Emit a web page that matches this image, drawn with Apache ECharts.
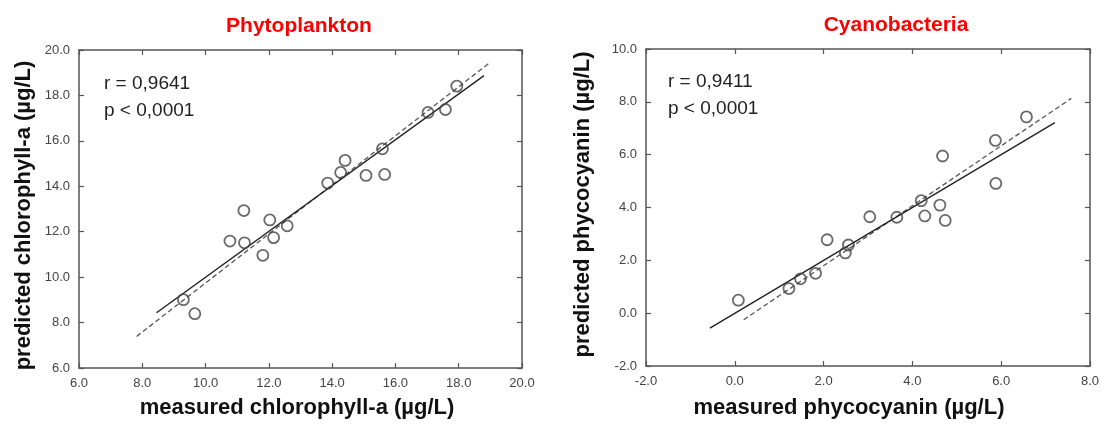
<!DOCTYPE html>
<html>
<head>
<meta charset="utf-8">
<script src="https://cdn.jsdelivr.net/npm/echarts@6/dist/echarts.min.js"></script>
<style>
html,body{margin:0;padding:0;background:#fff;}
#chart{width:1102px;height:424px;}
</style>
</head>
<body>
<div id="chart"></div>
<script>
// ---- data ----
const phytoTitle = 'Phytoplankton';
const cyanoTitle = 'Cyanobacteria';
const phytoMeasured  = [9.30, 9.66, 10.77, 11.21, 11.23, 11.81, 12.03, 12.15, 12.58, 13.86, 14.27, 14.41, 15.07, 15.59, 15.66, 17.03, 17.58, 17.94];
const phytoPredicted = [9.01, 8.39, 11.59, 12.93, 11.51, 10.96, 12.52, 11.74, 12.26, 14.14, 14.61, 15.14, 14.48, 15.65, 14.52, 17.25, 17.38, 18.41];
const phytoFitX  = [8.45, 18.80];
const phytoFitY  = [8.43, 18.87];
const phytoDashX = [7.82, 18.99];
const phytoDashY = [7.39, 19.45];
const phytoStats = ['r = 0,9641', 'p < 0,0001'];

const cyanoMeasured  = [0.08, 1.22, 1.48, 1.82, 2.08, 2.49, 2.56, 3.04, 3.65, 4.20, 4.28, 4.62, 4.68, 4.74, 5.87, 5.88, 6.57];
const cyanoPredicted = [0.49, 0.93, 1.30, 1.51, 2.78, 2.28, 2.58, 3.65, 3.63, 4.26, 3.68, 4.09, 5.95, 3.51, 6.54, 4.91, 7.43];
const cyanoFitX  = [-0.56, 7.21];
const cyanoFitY  = [-0.57, 7.21];
const cyanoDashX = [0.20, 7.58];
const cyanoDashY = [-0.25, 8.13];
const cyanoStats = ['r = 0,9411', 'p < 0,0001'];

const phytoXRange = [6, 20], phytoYRange = [6, 20];
const cyanoXRange = [-2, 8], cyanoYRange = [-2, 10];
const tickStep = 2;

const phytoXName = 'measured chlorophyll-a (\u00b5g/L)';
const phytoYName = 'predicted chlorophyll-a (\u00b5g/L)';
const cyanoXName = 'measured phycocyanin (\u00b5g/L)';
const cyanoYName = 'predicted phycocyanin (\u00b5g/L)';

// ---- build ----
const FONT = '"Liberation Sans", Arial, Helvetica, sans-serif';
const zip = (a, b) => a.map((v, i) => [v, b[i]]);

function axis(kind, gridIndex, range, opts) {
  return Object.assign({
    type: 'value', gridIndex, min: range[0], max: range[1], interval: tickStep,
    splitLine: {show: false},
    axisLine: {show: true, onZero: false, lineStyle: {color: '#555', width: 1.5}},
    axisTick: {show: true, inside: true, length: 5, lineStyle: {color: '#555', width: 1.2}},
    axisLabel: {show: true, color: '#4a4a4a', fontFamily: FONT, fontSize: 13,
      formatter: v => v.toFixed(1)},
    nameTextStyle: {color: '#111', fontFamily: FONT, fontSize: 22, fontWeight: 'bold'}
  }, opts);
}

const grids = [
  {left: 79, top: 50, width: 443, height: 323},
  {left: 646, top: 49, width: 445, height: 322}
];

const labelStyle = {show: true, color: '#444', fontFamily: FONT, fontSize: 13, margin: 9, formatter: v => v.toFixed(1)};

const xAxes = [
  axis('x', 0, phytoXRange, {position: 'bottom', name: phytoXName, nameLocation: 'middle', nameGap: 29,
    axisLabel: labelStyle,
    nameTextStyle: {color: '#111', fontFamily: FONT, fontSize: 22, fontWeight: 'bold', padding: [0, 7, 0, 0]}}),
  axis('x', 0, phytoXRange, {position: 'top', axisLabel: {show: false}}),
  axis('x', 1, cyanoXRange, {position: 'bottom', name: cyanoXName, nameLocation: 'middle', nameGap: 31,
    axisLabel: labelStyle,
    nameTextStyle: {color: '#111', fontFamily: FONT, fontSize: 22, fontWeight: 'bold', padding: [0, 38, 0, 0]}}),
  axis('x', 1, cyanoXRange, {position: 'top', axisLabel: {show: false}})
];
const yAxes = [
  axis('y', 0, phytoYRange, {position: 'left', name: phytoYName, nameLocation: 'middle', nameGap: 44, nameRotate: 90,
    axisLabel: labelStyle,
    nameTextStyle: {color: '#111', fontFamily: FONT, fontSize: 22, fontWeight: 'bold', padding: [0, 13, 0, 0]}}),
  axis('y', 0, phytoYRange, {position: 'right', axisLabel: {show: false}}),
  axis('y', 1, cyanoYRange, {position: 'left', name: cyanoYName, nameLocation: 'middle', nameGap: 52, nameRotate: 90,
    axisLabel: labelStyle,
    nameTextStyle: {color: '#111', fontFamily: FONT, fontSize: 22, fontWeight: 'bold', padding: [0, 0, 0, 6]}}),
  axis('y', 1, cyanoYRange, {position: 'right', axisLabel: {show: false}})
];

function scatter(xi, yi, xs, ys) {
  return {type: 'scatter', xAxisIndex: xi, yAxisIndex: yi, data: zip(xs, ys),
    symbol: 'circle', symbolSize: 11, z: 5,
    itemStyle: {color: 'rgba(255,255,255,0)', borderColor: '#444', borderWidth: 1.8},
    emphasis: {disabled: true}};
}
function fit(xi, yi, xs, ys, dashed) {
  return {type: 'line', xAxisIndex: xi, yAxisIndex: yi, data: zip(xs, ys),
    symbol: 'none', silent: true, z: 3,
    lineStyle: dashed ? {color: '#555', width: 1.3, type: [5, 3]} : {color: '#222', width: 1.4}};
}

const statText = (left, top, lines) => ({
  type: 'text', left, top,
  style: {text: lines.join('\n'), fill: '#222', font: '19px ' + FONT, lineHeight: 27}
});

const option = {
  backgroundColor: '#fff',
  animation: false,
  title: [
    {text: phytoTitle, left: 294, top: 11, textAlign: 'center',
      textStyle: {color: '#ff0000', fontFamily: FONT, fontSize: 21, fontWeight: 'bold'}},
    {text: cyanoTitle, left: 891, top: 10, textAlign: 'center',
      textStyle: {color: '#ff0000', fontFamily: FONT, fontSize: 21, fontWeight: 'bold'}}
  ],
  grid: grids,
  xAxis: xAxes,
  yAxis: yAxes,
  series: [
    fit(0, 0, phytoDashX, phytoDashY, true),
    fit(0, 0, phytoFitX, phytoFitY, false),
    scatter(0, 0, phytoMeasured, phytoPredicted),
    fit(2, 2, cyanoDashX, cyanoDashY, true),
    fit(2, 2, cyanoFitX, cyanoFitY, false),
    scatter(2, 2, cyanoMeasured, cyanoPredicted)
  ],
  graphic: [
    statText(104, 70, phytoStats),
    statText(668, 68, cyanoStats)
  ]
};

const chart = echarts.init(document.getElementById('chart'), null, {renderer: 'canvas'});
chart.setOption(option);
</script>
</body>
</html>
